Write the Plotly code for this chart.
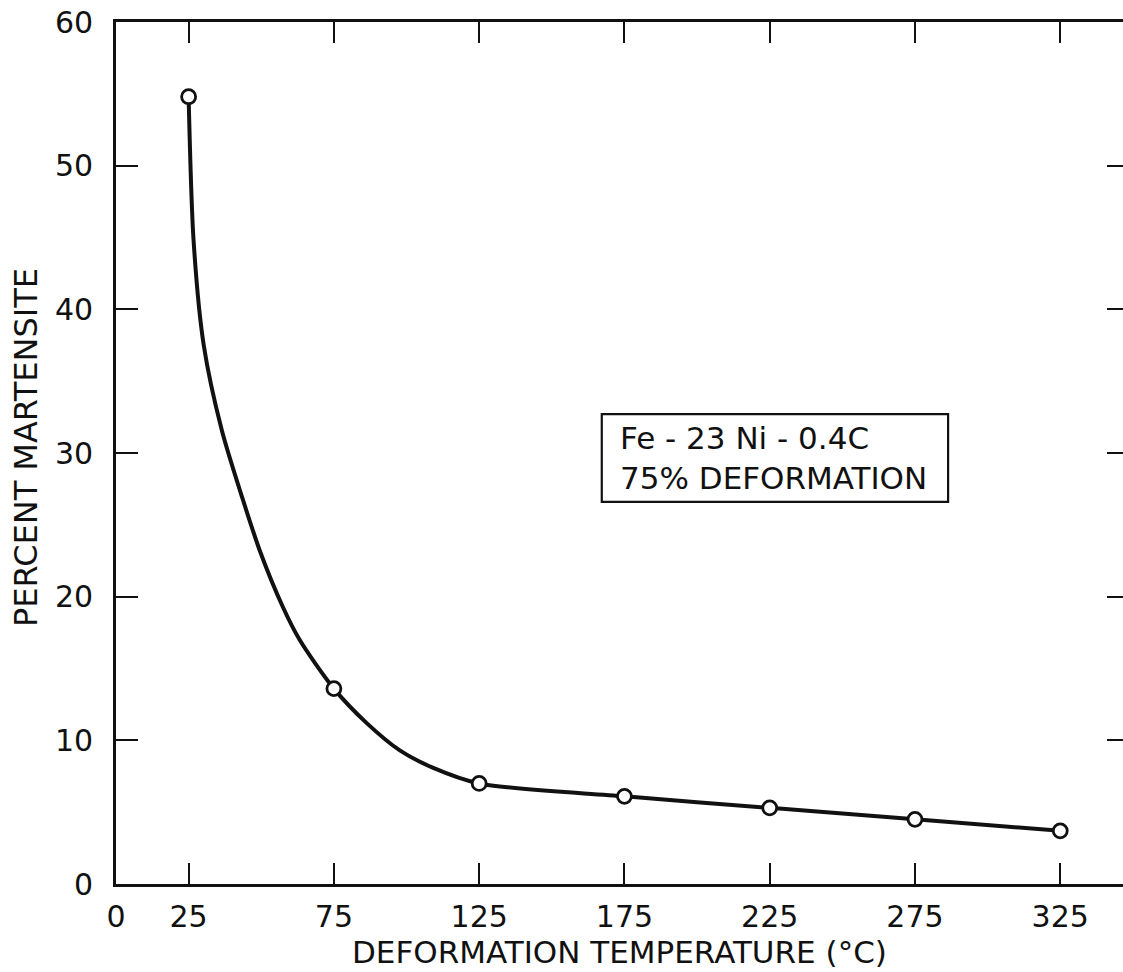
import plotly.graph_objects as go

# Measured points
temps = [25, 75, 125, 175, 225, 275, 325]
martensite = [54.8, 13.6, 7.0, 6.1, 5.3, 4.5, 3.7]

# Hand-drawn curve
curve_x = [25, 26.7, 30.2, 36.4, 43.6, 49.5, 57.4, 63.2, 75, 86.3, 97.7, 109.0,
           125, 175, 225, 275, 325]
curve_y = [54.8, 44.8, 37.5, 31.6, 26.8, 23.2, 19.3, 17.0, 13.6, 11.2, 9.3, 8.1,
           7.0, 6.1, 5.3, 4.5, 3.7]

x_ticks = [0, 25, 75, 125, 175, 225, 275, 325]
y_ticks = [0, 10, 20, 30, 40, 50, 60]
y_ticks_right = [10, 20, 30, 40, 50]

x_title = "DEFORMATION TEMPERATURE (°C)"
y_title = "PERCENT MARTENSITE"
note_lines = ["Fe - 23 Ni - 0.4C", "75% DEFORMATION"]

FONT = "DejaVu Sans"
INK = "#111111"

fig = go.Figure()
fig.add_trace(go.Scatter(x=curve_x, y=curve_y, mode="lines",
                         line=dict(color=INK, width=4, shape="spline", smoothing=0.8),
                         hoverinfo="skip", showlegend=False))
fig.add_trace(go.Scatter(x=temps, y=martensite, mode="markers",
                         marker=dict(symbol="circle", size=14, color="white",
                                     line=dict(color=INK, width=2.8)),
                         showlegend=False))
# invisible trace to activate right-hand tick axis
fig.add_trace(go.Scatter(x=temps, y=martensite, mode="markers", yaxis="y2",
                         marker=dict(opacity=0), hoverinfo="skip", showlegend=False))

XMAX = 346.6
fig.update_layout(
    width=1123, height=972,
    margin=dict(l=116, r=0, t=22, b=88),
    paper_bgcolor="white", plot_bgcolor="white",
    font=dict(family=FONT, color=INK, size=30),
    xaxis=dict(range=[0, XMAX], tickvals=x_ticks, ticktext=[str(v) for v in x_ticks],
               ticks="inside", ticklen=21, tickwidth=2.2, tickcolor=INK,
               showline=True, linecolor=INK, linewidth=2.8, mirror="ticks",
               showgrid=False, zeroline=False, ticklabelstandoff=4,
               tickfont=dict(family=FONT, size=30, color=INK)),
    yaxis=dict(range=[0, 60], tickvals=y_ticks,
               ticks="inside", ticklen=22, tickwidth=2.2, tickcolor=INK,
               showline=True, linecolor=INK, linewidth=2.8,
               showgrid=False, zeroline=False, ticklabelstandoff=14,
               tickfont=dict(family=FONT, size=30, color=INK)),
    yaxis2=dict(range=[0, 60], matches="y", overlaying="y", side="right",
                tickvals=y_ticks_right, ticks="inside", ticklen=16, tickwidth=2.2,
                tickcolor=INK, showticklabels=False, showline=False,
                showgrid=False, zeroline=False),
    showlegend=False,
)

# legend box
fig.add_shape(type="rect", xref="x", yref="y", x0=167.2, x1=286.4, y0=26.6, y1=32.7,
              line=dict(color=INK, width=2.2), fillcolor="rgba(0,0,0,0)")
fig.add_annotation(xref="x", yref="y", x=172.8, y=29.65, xanchor="left", yanchor="middle",
                   text="<br>".join(note_lines), showarrow=False, align="left",
                   font=dict(family=FONT, size=31, color=INK))

# axis titles
fig.add_annotation(xref="paper", yref="paper", x=0.5, y=0, yanchor="middle",
                   yshift=-68, text=x_title, showarrow=False,
                   font=dict(family=FONT, size=31, color=INK))
fig.add_annotation(xref="paper", yref="paper", x=0, y=0.5, xanchor="center",
                   yanchor="middle", xshift=-90, yshift=(884 - 448) - 431,
                   text=y_title, textangle=-90, showarrow=False,
                   font=dict(family=FONT, size=32, color=INK))

fig.write_html("out.html")
